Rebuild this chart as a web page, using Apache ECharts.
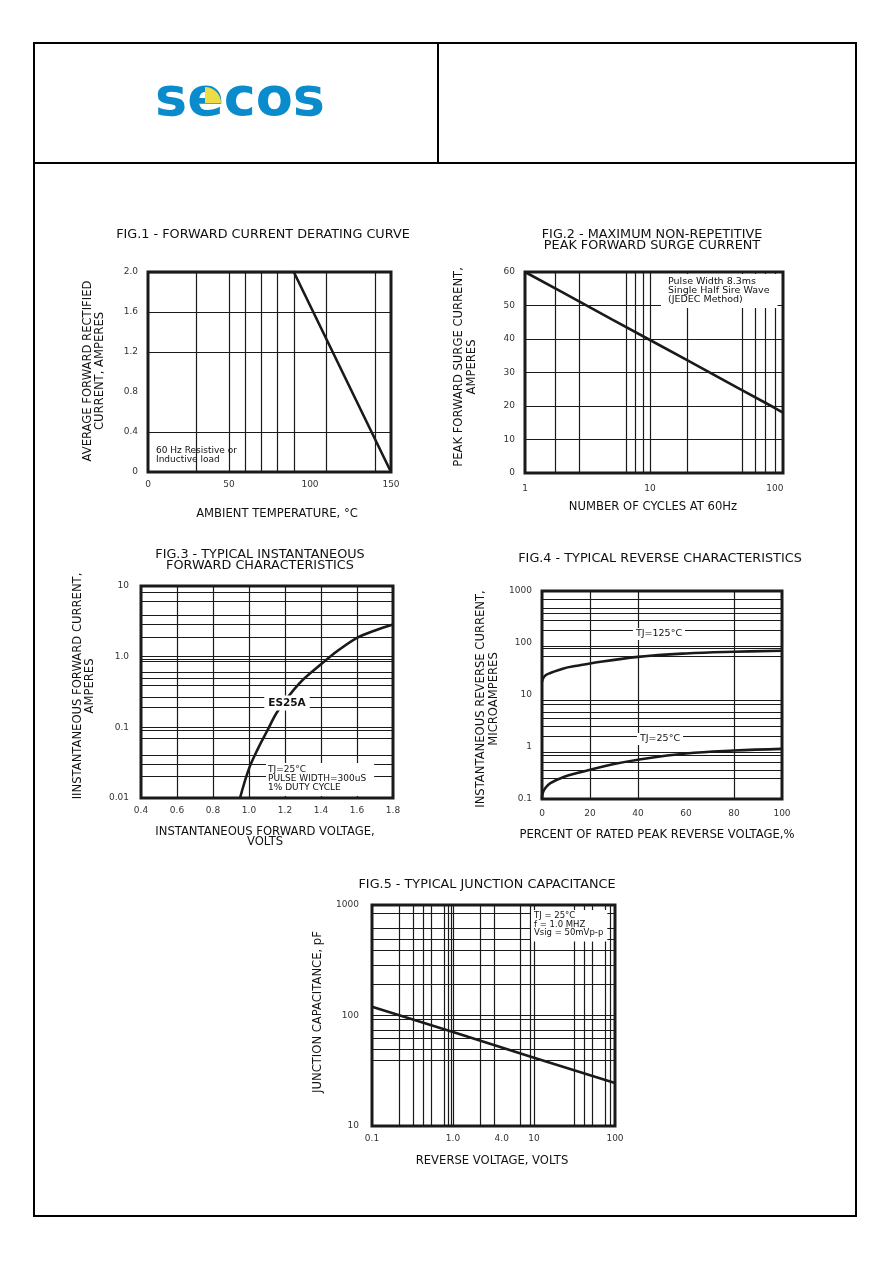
<!DOCTYPE html>
<html>
<head>
<meta charset="utf-8">
<title>SECOS ES25A curves</title>
<script src="https://cdn.jsdelivr.net/npm/echarts@6/dist/echarts.min.js"></script>
<style>
  html, body { margin: 0; padding: 0; background: #fff; }
  #chart { width: 892px; height: 1263px; }
</style>
</head>
<body>
<div id="chart"></div>
<script>
// ---- data ----
// Fig.1 derating
const fig1TempC = [0, 90, 150];
const fig1CurrentA = [2.0, 2.0, 0];
const fig1GridX = [30, 50, 60, 70, 80, 90, 110, 140];
const fig1GridY = [0.4, 1.2, 1.6];

// Fig.2 surge current
const fig2Cycles = [1, 2, 5, 10, 20, 50, 100, 116];
const fig2SurgeA = [60, 53.9, 45.8, 39.7, 33.6, 25.5, 19.4, 18];
const fig2GridX = [1.75, 2.7, 6.5, 7.6, 8.8, 10, 20, 55, 70, 83, 100];
const fig2GridY = [10, 20, 30, 40, 50];
const fig2XTickVals = [1, 10, 100];
const fig2XTickLabels = ['1', '10', '100'];

// Fig.3 forward characteristics
const fig3Volts = [0.95, 1.0, 1.05, 1.1, 1.16, 1.28, 1.4, 1.5, 1.6, 1.7, 1.8];
const fig3Amps = [0.01, 0.026, 0.05, 0.088, 0.17, 0.42, 0.78, 1.25, 1.85, 2.35, 2.85];
const fig3GridX = [0.6, 0.8, 1.0, 1.2, 1.4, 1.6];
const fig3GridY = [8.2, 6.1, 3.9, 2.9, 1.9, 1, 0.92, 0.85, 0.61, 0.49, 0.39, 0.27, 0.19,
                   0.1, 0.09, 0.065, 0.042, 0.03, 0.02];
const fig3YTickVals = [0.01, 0.1, 1, 10];
const fig3YTickLabels = ['0.01', '0.1', '1.0', '10'];

// Fig.4 reverse characteristics
const fig4Pct125 = [0, 0.5, 1.5, 3.5, 9, 14.6, 20, 40, 60, 80, 100];
const fig4Ua125 = [18, 21, 24, 26.5, 32.5, 36.5, 40.5, 54, 63, 68, 71];
const fig4Pct25 = [0, 0.3, 1.4, 3.5, 9, 14.6, 20, 30, 40, 60, 80, 100];
const fig4Ua25 = [0.1, 0.13, 0.163, 0.203, 0.264, 0.315, 0.365, 0.47, 0.57, 0.75, 0.855, 0.92];
const fig4GridX = [20, 40, 80];
const fig4GridY = [700, 460, 380, 270, 175, 88, 80, 55, 8, 6.6, 4.6, 3.6, 2.5, 1.6,
                   0.78, 0.68, 0.5, 0.36, 0.25];
const fig4YTickVals = [0.1, 1, 10, 100, 1000];
const fig4YTickLabels = ['0.1', '1', '10', '100', '1000'];

// Fig.5 junction capacitance
const fig5Volts = [0.1, 1, 10, 100];
const fig5Pf = [120, 71, 41.5, 24.5];
const fig5GridX = [0.22, 0.32, 0.43, 0.54, 0.77, 0.87, 0.94, 1, 2.2, 3.2, 6.7, 8.9, 10,
                   31, 42, 53, 76, 87];
const fig5GridY = [841, 617, 493, 393, 282, 190, 100, 92, 73, 62, 49, 39];
const fig5XTickVals = [0.1, 1, 4, 10, 100];
const fig5XTickLabels = ['0.1', '1.0', '4.0', '10', '100'];
const fig5YTickVals = [10, 100, 1000];
const fig5YTickLabels = ['10', '100', '1000'];

// ---- helpers ----
const INK = '#1a1a1a';
const FONT = 'DejaVu Sans';

function zip(xs, ys) {
  return xs.map((x, i) => [x, ys[i]]);
}

function logFmt(vals, labels) {
  return function (v) {
    for (let i = 0; i < vals.length; i++) {
      if (Math.abs(Math.log10(v) - Math.log10(vals[i])) < 0.005) return labels[i];
    }
    return '';
  };
}

function gridLines(xs, ys) {
  return {
    silent: true,
    symbol: ['none', 'none'],
    label: { show: false },
    emphasis: { disabled: true },
    lineStyle: { color: INK, width: 1.2, type: 'solid' },
    data: xs.map(v => ({ xAxis: v })).concat(ys.map(v => ({ yAxis: v })))
  };
}

function axisBase(extra) {
  return Object.assign({
    axisLine: { show: false },
    axisTick: { show: false },
    splitLine: { show: false }
  }, extra);
}

function lbl(margin, extra) {
  return Object.assign({ fontFamily: FONT, fontSize: 9, color: '#333', margin: margin }, extra || {});
}

function curve(idx, data, ml, smooth) {
  const s = {
    type: 'line',
    xAxisIndex: idx,
    yAxisIndex: idx,
    data: data,
    symbol: 'none',
    smooth: smooth || false,
    z: 10,
    silent: true,
    lineStyle: { color: INK, width: 2.6 }
  };
  if (ml) s.markLine = ml;
  return s;
}

function txt(x, y, text, opt) {
  opt = opt || {};
  return {
    type: 'text',
    x: x,
    y: y,
    rotation: opt.rotation || 0,
    z: 100,
    silent: true,
    style: {
      text: text,
      fontFamily: opt.fontFamily || FONT,
      fontSize: opt.fontSize || 11.6,
      fontWeight: opt.fontWeight || 'normal',
      fill: opt.fill || '#111',
      align: opt.align || 'center',
      verticalAlign: opt.verticalAlign || 'middle',
      lineHeight: opt.lineHeight,
      backgroundColor: opt.bg,
      padding: opt.padding
    }
  };
}

const gridBox = { show: true, borderColor: INK, borderWidth: 3, backgroundColor: 'transparent' };

const myChart = echarts.init(document.getElementById('chart'), null, { renderer: 'canvas' });

const option = {
  animation: false,
  backgroundColor: '#fff',
  grid: [
    Object.assign({ left: 148, top: 272, width: 243, height: 200 }, gridBox),
    Object.assign({ left: 525, top: 272, width: 258, height: 201 }, gridBox),
    Object.assign({ left: 141, top: 586, width: 252, height: 212 }, gridBox),
    Object.assign({ left: 542, top: 591, width: 240, height: 208 }, gridBox),
    Object.assign({ left: 372, top: 905, width: 243, height: 221 }, gridBox)
  ],
  xAxis: [
    axisBase({ gridIndex: 0, type: 'value', min: 0, max: 150, interval: 50, axisLabel: lbl(8) }),
    axisBase({ gridIndex: 1, type: 'log', logBase: 10, min: 1, max: 116,
      axisLabel: lbl(11, { formatter: logFmt(fig2XTickVals, fig2XTickLabels) }) }),
    axisBase({ gridIndex: 2, type: 'value', min: 0.4, max: 1.8, interval: 0.2,
      axisLabel: lbl(8, { formatter: v => v.toFixed(1) }) }),
    axisBase({ gridIndex: 3, type: 'value', min: 0, max: 100, interval: 20, axisLabel: lbl(10) }),
    axisBase({ gridIndex: 4, type: 'log', logBase: 10, min: 0.1, max: 100,
      axisLabel: lbl(8, { customValues: fig5XTickVals, formatter: logFmt(fig5XTickVals, fig5XTickLabels) }) })
  ],
  yAxis: [
    axisBase({ gridIndex: 0, type: 'value', min: 0, max: 2, interval: 0.4,
      axisLabel: lbl(10, { formatter: v => (v === 0 ? '0' : v.toFixed(1)) }) }),
    axisBase({ gridIndex: 1, type: 'value', min: 0, max: 60, interval: 10, axisLabel: lbl(10) }),
    axisBase({ gridIndex: 2, type: 'log', logBase: 10, min: 0.01, max: 10,
      axisLabel: lbl(12, { formatter: logFmt(fig3YTickVals, fig3YTickLabels) }) }),
    axisBase({ gridIndex: 3, type: 'log', logBase: 10, min: 0.1, max: 1000,
      axisLabel: lbl(10, { formatter: logFmt(fig4YTickVals, fig4YTickLabels) }) }),
    axisBase({ gridIndex: 4, type: 'log', logBase: 10, min: 10, max: 1000,
      axisLabel: lbl(13, { formatter: logFmt(fig5YTickVals, fig5YTickLabels) }) })
  ],
  series: [
    curve(0, zip(fig1TempC, fig1CurrentA), gridLines(fig1GridX, fig1GridY)),
    curve(1, zip(fig2Cycles, fig2SurgeA), gridLines(fig2GridX, fig2GridY)),
    curve(2, zip(fig3Volts, fig3Amps), gridLines(fig3GridX, fig3GridY), 0.35),
    curve(3, zip(fig4Pct125, fig4Ua125), gridLines(fig4GridX, fig4GridY), 0.4),
    curve(3, zip(fig4Pct25, fig4Ua25), null, 0.4),
    curve(4, zip(fig5Volts, fig5Pf), gridLines(fig5GridX, fig5GridY))
  ],
  graphic: [
    // page frame
    { type: 'rect', z: 50, silent: true, shape: { x: 34, y: 43, width: 822, height: 1173 },
      style: { fill: 'none', stroke: '#000', lineWidth: 2 } },
    { type: 'line', z: 50, silent: true, shape: { x1: 34, y1: 163, x2: 856, y2: 163 },
      style: { stroke: '#000', lineWidth: 2 } },
    { type: 'line', z: 50, silent: true, shape: { x1: 438, y1: 43, x2: 438, y2: 163 },
      style: { stroke: '#000', lineWidth: 2 } },
    // logo
    txt(240, 101, 'secos', { fontSize: 54, fontWeight: 'bold', fill: '#0a8ccc' }),
    { type: 'sector', z: 101, silent: true,
      shape: { cx: 205, cy: 103, r: 16, startAngle: -Math.PI / 2, endAngle: 0 },
      style: { fill: '#ecdc45' } },

    // figure titles
    txt(263, 235, 'FIG.1 - FORWARD CURRENT DERATING CURVE', { fontSize: 12.8 }),
    txt(652, 240, 'FIG.2 - MAXIMUM NON-REPETITIVE\nPEAK FORWARD SURGE CURRENT', { fontSize: 12.8, lineHeight: 11 }),
    txt(260, 560, 'FIG.3 - TYPICAL INSTANTANEOUS\nFORWARD CHARACTERISTICS', { fontSize: 12.8, lineHeight: 11 }),
    txt(660, 559, 'FIG.4 - TYPICAL REVERSE CHARACTERISTICS', { fontSize: 12.8 }),
    txt(487, 885, 'FIG.5 - TYPICAL JUNCTION CAPACITANCE', { fontSize: 12.8 }),

    // axis titles
    txt(94, 371, 'AVERAGE FORWARD RECTIFIED\nCURRENT, AMPERES', { rotation: Math.PI / 2, lineHeight: 12 }),
    txt(277, 514, 'AMBIENT TEMPERATURE, °C'),
    txt(465, 367, 'PEAK FORWARD SURGE CURRENT,\nAMPERES', { rotation: Math.PI / 2, lineHeight: 13 }),
    txt(653, 507, 'NUMBER OF CYCLES AT 60Hz'),
    txt(84, 686, 'IINSTANTANEOUS FORWARD CURRENT,\nAMPERES', { rotation: Math.PI / 2, lineHeight: 12 }),
    txt(265, 837, 'INSTANTANEOUS FORWARD VOLTAGE,\nVOLTS', { lineHeight: 10.5 }),
    txt(487, 699, 'INSTANTANEOUS REVERSE CURRENT,\nMICROAMPERES', { rotation: Math.PI / 2, lineHeight: 13 }),
    txt(657, 835, 'PERCENT OF RATED PEAK REVERSE VOLTAGE,%'),
    txt(318, 1012, 'JUNCTION CAPACITANCE, pF', { rotation: Math.PI / 2 }),
    txt(492, 1161, 'REVERSE VOLTAGE, VOLTS'),

    // in-plot notes
    txt(156, 446, '60 Hz Resistive or\nInductive load', { fontSize: 9, lineHeight: 9, align: 'left', verticalAlign: 'top' }),
    txt(661, 274, 'Pulse Width 8.3ms\nSingle Half Sire Wave\n(JEDEC Method)',
      { fontSize: 9.5, lineHeight: 9, align: 'left', verticalAlign: 'top', bg: '#fff', padding: [3, 8, 4, 7] }),
    txt(287, 703, 'ES25A', { fontSize: 10.5, fontWeight: 'bold', bg: '#fff', padding: [2, 4, 2, 4] }),
    txt(266, 763, 'TJ=25°C\nPULSE WIDTH=300uS\n1% DUTY CYCLE',
      { fontSize: 9, lineHeight: 9, align: 'left', verticalAlign: 'top', bg: '#fff', padding: [2, 8, 4, 2] }),
    txt(659, 634, 'TJ=125°C', { fontSize: 9.5, bg: '#fff', padding: [1, 3, 1, 3] }),
    txt(660, 739, 'TJ=25°C', { fontSize: 9.5, bg: '#fff', padding: [1, 3, 1, 3] }),
    txt(531, 910, 'TJ = 25°C\nf = 1.0 MHZ\nVsig = 50mVp-p',
      { fontSize: 8.5, lineHeight: 8.5, align: 'left', verticalAlign: 'top', bg: '#fff', padding: [2, 4, 4, 3] })
  ]
};

myChart.setOption(option);
window.onresize = () => {
  myChart.resize();
};
</script>
</body>
</html>
